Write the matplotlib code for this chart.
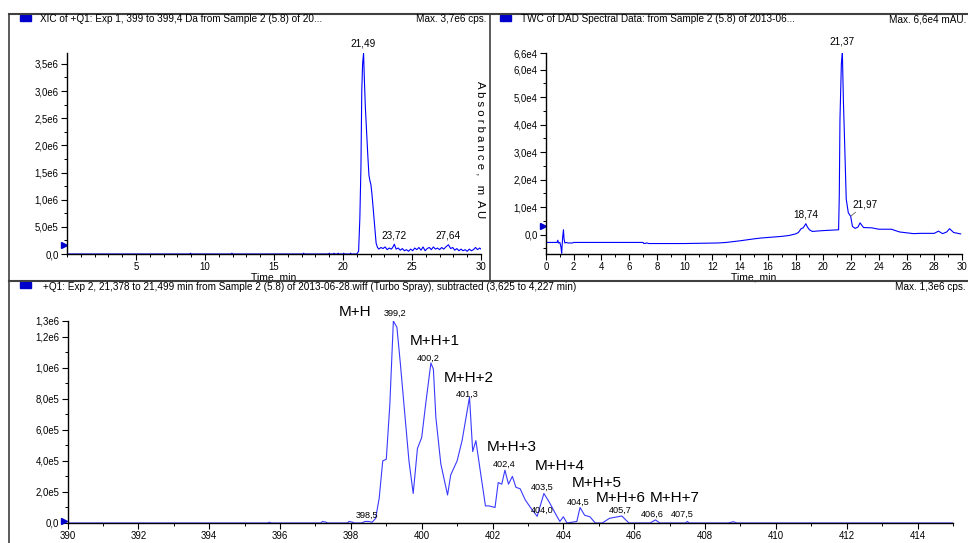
import numpy as np
import matplotlib.pyplot as plt
from matplotlib.ticker import MultipleLocator, FixedLocator, FuncFormatter
from matplotlib.lines import Line2D
from matplotlib.patches import Rectangle

plt.rcParams['font.family'] = ['Liberation Sans', 'DejaVu Sans']

# XIC (left top): time in min, intensity in cps
xic_t = [0.0, 8.9, 8.95, 9.0, 11.9, 11.95, 12.0, 17.1, 17.15, 17.2, 18.95, 19.0, 19.05,
         19.3, 19.35, 19.4, 19.6, 19.65, 19.7, 20.0, 20.05, 20.1, 20.5, 20.55, 20.6, 21.0,
         21.13, 21.22, 21.3, 21.36, 21.42, 21.49, 21.55, 21.62, 21.7, 21.8, 21.88, 21.95,
         22.02, 22.1, 22.2, 22.3, 22.4,
         22.5, 22.6, 22.75, 22.9, 23.05, 23.2, 23.35, 23.5, 23.6, 23.72, 23.85, 24.0,
         24.15, 24.3, 24.45, 24.6, 24.75, 24.9, 25.05, 25.2, 25.35, 25.5, 25.65, 25.8,
         25.95, 26.1, 26.25, 26.4, 26.55, 26.7, 26.85, 27.0, 27.15, 27.3, 27.45, 27.64,
         27.8, 27.95, 28.1, 28.25, 28.4, 28.55, 28.7, 28.85, 29.0, 29.15, 29.3, 29.45,
         29.6, 29.75, 29.9, 30.0]
xic_i = [0, 0, 1.5e4, 0, 0, 1.5e4, 0, 0, 1.5e4, 0, 0, 1.5e4, 0,
         0, 1.5e4, 0, 0, 1.5e4, 0, 0, 1.5e4, 0, 0, 1.5e4, 0, 0,
         0.5e5, 6.5e5, 1.6e6, 3.0e6, 3.5e6, 3.7e6, 3.2e6, 2.7e6, 2.3e6, 1.8e6, 1.45e6, 1.35e6,
         1.28e6, 1.1e6, 0.8e6, 0.5e6, 0.2e6,
         1.2e5, 0.9e5, 1.2e5, 1.0e5, 1.3e5, 0.8e5, 1.1e5, 0.9e5, 1.2e5, 1.8e5, 0.9e5, 1.1e5,
         0.7e5, 1.0e5, 0.6e5, 0.8e5, 0.5e5, 0.9e5, 0.6e5, 1.1e5, 0.8e5, 1.2e5, 0.7e5, 1.3e5,
         0.6e5, 1.0e5, 1.2e5, 0.8e5, 1.3e5, 0.9e5, 1.1e5, 0.8e5, 1.2e5, 0.9e5, 1.3e5, 1.7e5,
         1.0e5, 1.2e5, 0.7e5, 1.0e5, 0.6e5, 0.9e5, 0.6e5, 0.8e5, 0.5e5, 0.9e5, 0.6e5, 0.8e5,
         1.2e5, 0.8e5, 1.1e5, 0.9e5]

# TWC of DAD (right top): time in min, absorbance in mAU
twc_t = [0.0, 0.8, 0.85, 0.9, 1.0, 1.08, 1.13, 1.2, 1.26, 1.3, 1.36, 1.45, 1.6, 1.9, 2.0,
         7.0, 7.05, 7.3, 7.4, 10.0, 12.4, 13.0, 14.0, 15.0, 15.5, 16.0, 17.0, 17.5, 18.0,
         18.2, 18.4, 18.55, 18.74, 18.85, 19.0, 19.2, 20.0, 21.1, 21.15, 21.2, 21.3, 21.37,
         21.45, 21.55, 21.65, 21.8, 21.97, 22.1, 22.3, 22.5, 22.65, 22.9, 23.5, 24.0, 24.9,
         25.5, 26.5, 27.0, 28.0, 28.3, 28.6, 28.9, 29.1, 29.4, 29.9]
twc_a = [-0.28e4, -0.28e4, -0.2e4, -0.3e4, -0.28e4, -0.45e4, -0.67e4, -0.1e4, 0.18e4, -0.15e4,
         -0.3e4, -0.28e4, -0.3e4, -0.3e4, -0.28e4,
         -0.28e4, -0.32e4, -0.3e4, -0.32e4, -0.32e4, -0.3e4, -0.28e4, -0.22e4, -0.15e4,
         -0.12e4, -0.1e4, -0.06e4, -0.03e4, 0.03e4,
         0.08e4, 0.22e4, 0.25e4, 0.4e4, 0.28e4, 0.18e4, 0.12e4, 0.15e4, 0.18e4, 1.4e4, 4.2e4,
         6.2e4, 6.67e4,
         4.8e4, 3.1e4, 1.3e4, 0.8e4, 0.67e4, 0.3e4, 0.23e4, 0.28e4, 0.43e4, 0.26e4, 0.25e4,
         0.2e4, 0.2e4,
         0.1e4, 0.04e4, 0.05e4, 0.05e4, 0.13e4, 0.04e4, 0.1e4, 0.22e4, 0.08e4, 0.03e4]

# Q1 spectrum (bottom): m/z in Da, intensity in cps
ms_mz = [390.0, 395.65, 395.7, 395.75, 397.15, 397.2, 397.3, 397.35, 397.9, 397.95, 398.05,
         398.1, 398.3, 398.4, 398.5, 398.6, 398.7, 398.8, 398.9, 399.0, 399.1, 399.2, 399.3,
         399.4, 399.5, 399.64, 399.76, 399.88, 400.0, 400.12, 400.26, 400.33, 400.4, 400.54,
         400.73, 400.82, 401.0, 401.14, 401.35, 401.44, 401.53, 401.67, 401.8, 401.9, 402.07,
         402.16, 402.26, 402.35, 402.45, 402.56, 402.66, 402.78, 402.92, 403.07, 403.26,
         403.45, 403.6, 403.8, 403.9, 404.0, 404.1, 404.38, 404.47, 404.6, 404.75, 404.9,
         405.1, 405.3, 405.65, 405.85, 406.45, 406.6, 406.72, 407.45, 407.5, 407.55, 408.65,
         408.8, 408.9, 415.0]
ms_i = [0, 0, 0.05e5, 0, 0, 0.1e5, 0.05e5, 0, 0, 0.1e5, 0.05e5,
        0, 0, 0.1e5, 0.1e5, 0.05e5, 0.3e5, 1.6e5, 4.0e5, 4.1e5, 7.6e5, 13.0e5, 12.6e5,
        10.2e5, 7.6e5, 4.0e5, 1.9e5, 4.8e5, 5.5e5, 7.8e5, 10.3e5, 9.9e5, 6.8e5, 3.8e5,
        1.8e5, 3.1e5, 4.0e5, 5.3e5, 8.1e5, 4.6e5, 5.3e5, 3.1e5, 1.1e5, 1.1e5, 1.0e5,
        2.6e5, 2.5e5, 3.4e5, 2.5e5, 3.0e5, 2.3e5, 2.2e5, 1.5e5, 1.0e5, 0.43e5,
        1.9e5, 1.35e5, 0.5e5, 0.1e5, 0.4e5, 0, 0.1e5, 1.0e5, 0.5e5, 0.4e5, 0,
        0, 0.3e5, 0.45e5, 0, 0, 0.2e5, 0, 0, 0.1e5, 0, 0,
        0.08e5, 0, 0]

xic_peaks = [(21.49, 3.7e6, '21,49'), (23.72, 1.8e5, '23,72'), (27.64, 1.7e5, '27,64')]
twc_peaks = [(21.37, 6.67e4, '21,37'), (18.74, 0.4e4, '18,74')]
ms_peaks = ['399,2', '400,2', '401,3', '402,4', '403,5', '404,0', '404,5', '405,7',
            '406,6', '407,5', '398,5']
ms_peak_x = [399.25, 400.18, 401.28, 402.33, 403.4, 403.4, 404.42, 405.6, 406.5, 407.36, 398.47]
ms_peak_y = [1.35e6, 1.06e6, 8.3e5, 3.8e5, 2.3e5, 0.84e5, 1.35e5, 0.84e5, 0.58e5, 0.58e5, 0.52e5]
iso_labels = ['M+H', 'M+H+1', 'M+H+2', 'M+H+3', 'M+H+4', 'M+H+5', 'M+H+6', 'M+H+7']
iso_x = [397.67, 399.67, 400.63, 401.85, 403.18, 404.25, 404.9, 406.43]
iso_y = [1.355e6, 1.17e6, 9.35e5, 4.9e5, 3.68e5, 2.58e5, 1.61e5, 1.61e5]

BLUE = '#0000ff'
FS = 7.2
W, H = 968, 543


def sci(v):
    if v == 0:
        return '0,0'
    e = int(np.floor(np.log10(abs(v)) + 1e-9))
    return ('%.1fe%d' % (v / 10 ** e, e)).replace('.', ',')


def style(ax):
    for s in ['top', 'right']:
        ax.spines[s].set_visible(False)
    for s in ['left', 'bottom']:
        ax.spines[s].set_linewidth(1.0)
    ax.tick_params(which='major', length=4, width=0.8, labelsize=FS - 0.3, pad=2)
    ax.tick_params(which='minor', length=2, width=0.7)
    ax.set_facecolor('none')


def fx(px):
    return px / W


def fy(py):
    return 1 - py / H


fig = plt.figure(figsize=(9.68, 5.43), dpi=100)

# frames
fig.add_artist(Line2D([fx(9), 1], [fy(14), fy(14)], color='#404040', lw=1.5))
fig.add_artist(Line2D([fx(9), fx(9)], [fy(14), 0], color='#404040', lw=1.2))
fig.add_artist(Line2D([fx(490), fx(490)], [fy(14), fy(281)], color='#404040', lw=1.2))
fig.add_artist(Line2D([fx(9), 1], [fy(281), fy(281)], color='#404040', lw=1.5))

# headers
for x0, y0 in [(20, 15), (500, 15), (20, 282)]:
    fig.add_artist(Rectangle((fx(x0), fy(y0 + 6)), fx(11), 6 / H, color='#0000cc'))
hdr = dict(fontsize=FS, va='baseline')
fig.text(fx(40), fy(22), 'XIC of +Q1: Exp 1, 399 to 399,4 Da from Sample 2 (5.8) of 20...', **hdr)
fig.text(fx(487), fy(22), 'Max. 3,7e6 cps.', ha='right', **hdr)
fig.text(fx(521), fy(22), 'TWC of DAD Spectral Data: from Sample 2 (5.8) of 2013-06...', **hdr)
fig.text(fx(966), fy(22), 'Max. 6,6e4 mAU.', ha='right', **hdr)
fig.text(fx(43), fy(290), '+Q1: Exp 2, 21,378 to 21,499 min from Sample 2 (5.8) of 2013-06-28.wiff '
         '(Turbo Spray), subtracted (3,625 to 4,227 min)', **hdr)
fig.text(fx(966), fy(290), 'Max. 1,3e6 cps.', ha='right', **hdr)
fig.text(fx(481), fy(150), 'A b s o r b a n c e ,   m  A U', fontsize=8.2, rotation=-90,
         va='center', ha='center')

# left top: XIC
ax1 = fig.add_axes([fx(67), fy(254), fx(481 - 67), (254 - 53) / H])
style(ax1)
ax1.plot(xic_t, xic_i, color=BLUE, lw=0.8)
ax1.set_xlim(0, 30)
ax1.set_ylim(0, 3.7e6)
ax1.xaxis.set_major_locator(FixedLocator([5, 10, 15, 20, 25, 30]))
ax1.xaxis.set_minor_locator(MultipleLocator(1))
ax1.yaxis.set_major_locator(MultipleLocator(5e5))
ax1.yaxis.set_minor_locator(MultipleLocator(2.5e5))
ax1.yaxis.set_major_formatter(FuncFormatter(lambda v, p: sci(v)))
ax1.set_xlabel('Time, min', fontsize=FS + 0.3, labelpad=0)
for x, y, s in xic_peaks:
    ax1.annotate(s, (x, y), xytext=(0, 3), textcoords='offset points', ha='center',
                 va='bottom', fontsize=FS, annotation_clip=False)
ax1.plot([-0.2], [1.66e5], marker='>', color='#0000cc', ms=4, clip_on=False)

# right top: TWC
ax2 = fig.add_axes([fx(546), fy(254), fx(962 - 546), (254 - 53) / H])
style(ax2)
ax2.plot(twc_t, twc_a, color=BLUE, lw=0.8)
ax2.set_xlim(0, 30)
ax2.set_ylim(-0.7e4, 6.6e4)
ax2.xaxis.set_major_locator(MultipleLocator(2))
ax2.xaxis.set_minor_locator(MultipleLocator(1))
ax2.yaxis.set_major_locator(FixedLocator([0, 1e4, 2e4, 3e4, 4e4, 5e4, 6e4, 6.6e4]))
ax2.yaxis.set_minor_locator(FixedLocator([-0.5e4, 0.5e4, 1.5e4, 2.5e4, 3.5e4, 4.5e4, 5.5e4]))
ax2.yaxis.set_major_formatter(FuncFormatter(lambda v, p: sci(v)))
ax2.set_xlabel('Time, min', fontsize=FS + 0.3, labelpad=0)
for x, y, s in twc_peaks:
    ax2.annotate(s, (x, y), xytext=(0, 3), textcoords='offset points', ha='center',
                 va='bottom', fontsize=FS, annotation_clip=False)
ax2.annotate('21,97', (21.97, 0.67e4), xytext=(23.0, 1.1e4), ha='center', va='center',
             fontsize=FS, arrowprops=dict(arrowstyle='-', color='#606060', lw=0.6,
                                          shrinkA=8, shrinkB=0))
ax2.plot([-0.2], [0.33e4], marker='>', color='#0000cc', ms=4, clip_on=False)

# bottom: spectrum
ax3 = fig.add_axes([fx(67.5), fy(523), fx(953 - 67.5), (523 - 321) / H])
style(ax3)
ax3.plot(ms_mz, ms_i, color='#3a3aff', lw=0.8)
ax3.set_xlim(390, 415)
ax3.set_ylim(0, 1.3e6)
ax3.xaxis.set_major_locator(MultipleLocator(2))
ax3.xaxis.set_minor_locator(MultipleLocator(1))
ax3.yaxis.set_major_locator(FixedLocator([0, 2e5, 4e5, 6e5, 8e5, 1e6, 1.2e6, 1.3e6]))
ax3.yaxis.set_minor_locator(FixedLocator([1e5, 3e5, 5e5, 7e5, 9e5, 1.1e6]))
ax3.yaxis.set_major_formatter(FuncFormatter(lambda v, p: sci(v)))
ax3.set_xlabel('m/z, Da', fontsize=FS + 0.3, labelpad=1)
for x, y, s in zip(ms_peak_x, ms_peak_y, ms_peaks):
    ax3.text(x, y, s, ha='center', va='center', fontsize=FS - 0.6, clip_on=False)
for x, y, s in zip(iso_x, iso_y, iso_labels):
    ax3.text(x, y, s, ha='left', va='center', fontsize=11, clip_on=False)
ax3.plot([389.9], [0.1e5], marker='>', color='#0000cc', ms=4, clip_on=False)

fig.savefig('out.png', dpi=100)
